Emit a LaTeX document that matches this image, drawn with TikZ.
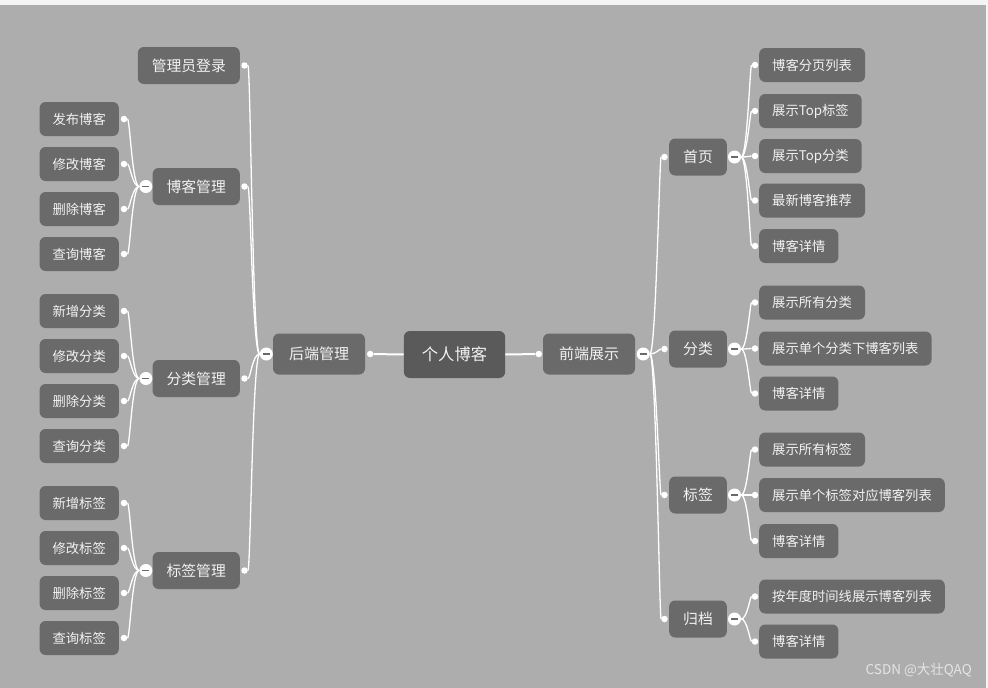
\documentclass[tikz,border=0pt]{standalone}
\usepackage{fontspec}
\newfontfamily\cjk{Noto Sans CJK SC}
\definecolor{bgc}{HTML}{ADADAD}
\definecolor{topc}{HTML}{F4F4F4}
\definecolor{boxc}{HTML}{6A6A6A}
\definecolor{rootc}{HTML}{5A5A5A}
\definecolor{txt}{HTML}{F2F2F2}
\definecolor{foldc}{HTML}{6A6A6A}
\begin{document}
\begin{tikzpicture}[x=1pt,y=-1pt,
  box/.style={rounded corners=6pt, fill=boxc, text=txt, inner ysep=0pt, align=center},
  leaf/.style={box, font=\cjk\fontsize{13.3}{16}\selectfont, minimum height=34pt, inner xsep=13pt},
  topic/.style={box, font=\cjk\fontsize{14.8}{18}\selectfont, minimum height=37pt, inner xsep=14pt},
  mainbox/.style={box, font=\cjk\fontsize{15}{18}\selectfont, minimum height=41pt, inner xsep=16pt},
  rootbox/.style={box, fill=rootc, font=\cjk\fontsize{16.3}{20}\selectfont, minimum height=47pt, inner xsep=18pt},
  dot/.style={circle, fill=white, inner sep=0pt, minimum size=6.5pt},
  fold/.style={circle, fill=white, inner sep=0pt, minimum size=13pt,
    path picture={\draw[foldc, line width=1.8pt] ([xshift=-3.5pt]path picture bounding box.center) -- ([xshift=3.5pt]path picture bounding box.center);}},
  link/.style={white, line width=1.3pt},
  rootlink/.style={white, line width=2pt}
]
\useasboundingbox (0,0) rectangle (988,688);
\fill[topc] (0,0) rectangle (988,688);
\fill[bgc] (0,5) rectangle (986,688);

% root and main branches
\node[rootbox] (root) at (454.5,354.5) {个人博客};
\node[mainbox] (hd) at (319,354) {后端管理};
\node[mainbox] (qd) at (589,354) {前端展示};
\node[dot] (dhd) at ([xshift=5pt]hd.east) {};
\node[dot] (dqd) at ([xshift=-4pt]qd.west) {};
\node[fold] (fhd) at ([xshift=-6.5pt]hd.west) {};
\node[fold] (fqd) at ([xshift=8pt]qd.east) {};
\draw[rootlink] (root.west) -- (dhd);
\draw[rootlink] (root.east) -- (dqd);

% left topics
\node[topic, anchor=east] (gl) at (240,65.5) {管理员登录};
\node[topic, anchor=east] (bk) at (240,186.5) {博客管理};
\node[topic, anchor=east] (fl) at (240,378.5) {分类管理};
\node[topic, anchor=east] (bq) at (240,570.5) {标签管理};
\foreach \n in {gl,bk,fl,bq}{
  \node[dot] (d\n) at ([xshift=4.5pt]\n.east) {};
  \draw[link] (fhd.west) .. controls +(-7,0) and +(6,0) .. (d\n);
}
\foreach \n in {bk,fl,bq}{
  \node[fold] (f\n) at ([xshift=-6.5pt]\n.west) {};
}

% left leaves
\foreach \p/\y/\t/\nm in {bk/119/发布博客/a1, bk/164/修改博客/a2, bk/209/删除博客/a3, bk/254/查询博客/a4,
  fl/311/新增分类/b1, fl/356/修改分类/b2, fl/401/删除分类/b3, fl/446/查询分类/b4,
  bq/503/新增标签/c1, bq/548/修改标签/c2, bq/593/删除标签/c3, bq/638/查询标签/c4}{
  \node[leaf, anchor=east, minimum width=79pt] (\nm) at (119,\y) {\t};
  \node[dot] (d\nm) at ([xshift=5pt]\nm.east) {};
  \draw[link] (f\p.west) .. controls +(-7,0) and +(6,0) .. (d\nm);
}

% right topics
\node[topic, anchor=west] (sy) at (669,157) {首页};
\node[topic, anchor=west] (rfl) at (669,349) {分类};
\node[topic, anchor=west] (rbq) at (669,495) {标签};
\node[topic, anchor=west] (gd) at (669,619) {归档};
\foreach \n in {sy,rfl,rbq,gd}{
  \node[dot] (d\n) at ([xshift=-4.5pt]\n.west) {};
  \draw[link] (fqd.east) .. controls +(6,0) and +(-5,0) .. (d\n);
  \node[fold] (f\n) at ([xshift=7.5pt]\n.east) {};
}

% right leaves
\foreach \p/\y/\t/\nm in {sy/65/博客分页列表/e1, sy/111/展示Top标签/e2, sy/156/展示Top分类/e3, sy/200.5/最新博客推荐/e4, sy/246/博客详情/e5,
  rfl/302.5/展示所有分类/g1, rfl/348.5/展示单个分类下博客列表/g2, rfl/393.5/博客详情/g3,
  rbq/449.5/展示所有标签/h1, rbq/495/展示单个标签对应博客列表/h2, rbq/541/博客详情/h3,
  gd/596.5/按年度时间线展示博客列表/k1, gd/641.5/博客详情/k2}{
  \node[leaf, anchor=west] (\nm) at (759,\y) {\t};
  \node[dot] (d\nm) at ([xshift=-4pt]\nm.west) {};
  \draw[link] (f\p.east) .. controls +(6,0) and +(-5,0) .. (d\nm);
}

% watermark
\node[font=\cjk\fontsize{13.5}{15}\selectfont, text=white!90!black, anchor=east, inner sep=0pt] (wm) at (972,670) {CSDN @大壮QAQ};
\end{tikzpicture}
\end{document}
